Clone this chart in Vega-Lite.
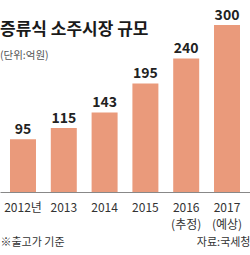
{
  "$schema": "https://vega.github.io/schema/vega-lite/v6.json",
  "width": 250,
  "height": 192,
  "autosize": {"type": "none"},
  "padding": {"left": 0, "top": 0, "right": 0, "bottom": 63},
  "title": {
    "text": "증류식 소주시장 규모",
    "subtitle": "(단위:억원)",
    "anchor": "start",
    "frame": "group",
    "orient": "top",
    "offset": -62,
    "font": "Noto Sans CJK KR",
    "fontSize": 17,
    "fontWeight": "bold",
    "color": "#1a1a1a",
    "subtitleFont": "Noto Sans CJK KR",
    "subtitleFontSize": 10.5,
    "subtitleColor": "#555555",
    "subtitlePadding": 12
  },
  "data": {
    "values": [
      {"year": "2012년", "value": 95},
      {"year": "2013", "value": 115},
      {"year": "2014", "value": 143},
      {"year": "2015", "value": 195},
      {"year": "2016 (추정)", "value": 240},
      {"year": "2017 (예상)", "value": 300}
    ]
  },
  "layer": [
    {
      "mark": {"type": "bar", "color": "#EA9A7B"},
      "encoding": {
        "x": {
          "field": "year",
          "type": "nominal",
          "sort": null,
          "scale": {"paddingInner": 0.363, "paddingOuter": 0.245},
          "axis": {
            "orient": "bottom",
            "title": "※출고가 기준",
            "titleAnchor": "start",
            "titleFont": "Noto Sans CJK KR",
            "titleFontSize": 11,
            "titleFontWeight": "normal",
            "titleColor": "#333333",
            "titlePadding": 6,
            "labelExpr": "split(datum.label, ' ')",
            "labelAngle": 0,
            "labelFont": "Noto Sans CJK KR",
            "labelFontSize": 12,
            "labelColor": "#333333",
            "labelLineHeight": 17,
            "labelPadding": 10,
            "ticks": false,
            "domainColor": "#888888",
            "domainWidth": 1
          }
        },
        "y": {
          "field": "value",
          "type": "quantitative",
          "scale": {"domain": [0, 345], "nice": false},
          "axis": null
        }
      }
    },
    {
      "mark": {"type": "text", "baseline": "alphabetic", "dy": -5, "font": "Noto Sans CJK KR", "fontSize": 14, "fontWeight": "bold", "color": "#222222"},
      "encoding": {
        "x": {
          "field": "year",
          "type": "nominal",
          "sort": null,
          "axis": {
            "orient": "bottom",
            "title": "자료:국세청",
            "titleAnchor": "end",
            "titleFont": "Noto Sans CJK KR",
            "titleFontSize": 11,
            "titleFontWeight": "normal",
            "titleColor": "#333333",
            "titlePadding": 6,
            "labelExpr": "split(datum.label, ' ')",
            "labelAngle": 0,
            "labelFont": "Noto Sans CJK KR",
            "labelFontSize": 12,
            "labelOpacity": 0,
            "labelLineHeight": 17,
            "labelPadding": 10,
            "ticks": false,
            "domain": false
          }
        },
        "y": {"field": "value", "type": "quantitative"},
        "text": {"field": "value", "type": "quantitative"}
      }
    }
  ],
  "resolve": {"axis": {"x": "independent"}},
  "config": {"view": {"stroke": null}}
}
